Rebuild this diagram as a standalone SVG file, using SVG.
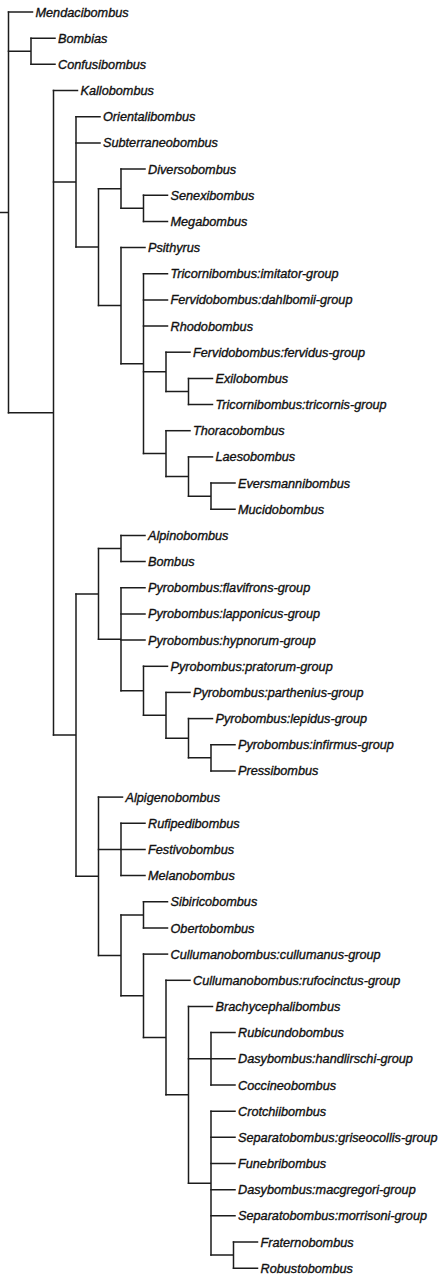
<svg xmlns="http://www.w3.org/2000/svg" width="441" height="1276" viewBox="0 0 441 1276">
<style>
.c{fill:none;stroke:#1c1c1c;stroke-width:1.5;stroke-linecap:square}
text{font-family:"Liberation Sans",Arial,sans-serif;font-style:italic;font-size:12.7px;fill:#111;stroke:#111;stroke-width:0.35}
</style>
<rect width="441" height="1276" fill="#fff"/>
<g id="connectors" class="c">
<path d="M0,212.4H8.5M8.5,12V412.8"/>
<path d="M8.5,51.25H31M31,38.2V64.3"/>
<path d="M8.5,412.8H53.5M53.5,90.5V735"/>
<path d="M53.5,181.9H76M76,116.7V247.1"/>
<path d="M76,247.1H98.5M98.5,188.65V305.6"/>
<path d="M98.5,188.65H121M121,169V208.3"/>
<path d="M121,208.3H143.5M143.5,195.2V221.4"/>
<path d="M98.5,305.6H121M121,247.5V363.65"/>
<path d="M121,363.65H143.5M143.5,273.7V453.6"/>
<path d="M143.5,371.85H166M166,352.2V391.5"/>
<path d="M166,391.5H188.5M188.5,378.4V404.6"/>
<path d="M143.5,453.6H166M166,430.7V476.5"/>
<path d="M166,476.5H188.5M188.5,456.9V496.15"/>
<path d="M188.5,496.15H211M211,483.1V509.2"/>
<path d="M53.5,735H76M76,593.9V876.2"/>
<path d="M76,593.9H98.5M98.5,548.5V639.3"/>
<path d="M98.5,548.5H121M121,535.4V561.6"/>
<path d="M98.5,639.3H121M121,587.7V690.8"/>
<path d="M121,690.8H143.5M143.5,666.3V715.3"/>
<path d="M143.5,715.3H166M166,692.4V738.2"/>
<path d="M166,738.2H188.5M188.5,718.6V757.85"/>
<path d="M188.5,757.85H211M211,744.8V770.9"/>
<path d="M76,876.2H98.5M98.5,797.1V955.4"/>
<path d="M98.5,849.4H121M121,823.3V875.6"/>
<path d="M98.5,955.4H121M121,914.9V995.8"/>
<path d="M121,914.9H143.5M143.5,901.8V928"/>
<path d="M121,995.8H143.5M143.5,954.1V1037.6"/>
<path d="M143.5,1037.6H166M166,980.3V1094.8"/>
<path d="M166,1094.8H188.5M188.5,1006.5V1183.2"/>
<path d="M188.5,1058.8H211M211,1032.6V1085"/>
<path d="M188.5,1183.2H211M211,1111.2V1255.1"/>
<path d="M211,1255.1H233.5M233.5,1242V1268.2"/>
<path d="M8.5,12H32.5"/>
<path d="M31,38.2H55M31,64.3H55"/>
<path d="M53.5,90.5H77.5"/>
<path d="M76,116.7H100M76,142.9H100"/>
<path d="M121,169H145"/>
<path d="M143.5,195.2H167.5M143.5,221.4H167.5"/>
<path d="M121,247.5H145"/>
<path d="M143.5,273.7H167.5M143.5,299.9H167.5M143.5,326H167.5"/>
<path d="M166,352.2H190"/>
<path d="M188.5,378.4H212.5M188.5,404.6H212.5"/>
<path d="M166,430.7H190"/>
<path d="M188.5,456.9H212.5"/>
<path d="M211,483.1H235M211,509.2H235"/>
<path d="M121,535.4H145M121,561.6H145"/>
<path d="M121,587.7H145M121,613.9H145M121,640.1H145"/>
<path d="M143.5,666.3H167.5"/>
<path d="M166,692.4H190"/>
<path d="M188.5,718.6H212.5"/>
<path d="M211,744.8H235M211,770.9H235"/>
<path d="M98.5,797.1H122.5"/>
<path d="M121,823.3H145M121,849.4H145M121,875.6H145"/>
<path d="M143.5,901.8H167.5M143.5,928H167.5"/>
<path d="M143.5,954.1H167.5"/>
<path d="M166,980.3H190"/>
<path d="M188.5,1006.5H212.5"/>
<path d="M211,1032.6H235M211,1058.8H235M211,1085H235"/>
<path d="M211,1111.2H235M211,1137.3H235M211,1163.5H235M211,1189.7H235M211,1215.8H235"/>
<path d="M233.5,1242H257.5M233.5,1268.2H257.5"/>
</g>
<g id="n-mendacibombus"><text x="35.5" y="16.5">Mendacibombus</text></g>
<g id="n-bombias"><text x="58" y="42.7">Bombias</text></g>
<g id="n-confusibombus"><text x="58" y="68.8">Confusibombus</text></g>
<g id="n-kallobombus"><text x="80.5" y="95">Kallobombus</text></g>
<g id="n-orientalibombus"><text x="103" y="121.2">Orientalibombus</text></g>
<g id="n-subterraneobombus"><text x="103" y="147.4">Subterraneobombus</text></g>
<g id="n-diversobombus"><text x="148" y="173.5">Diversobombus</text></g>
<g id="n-senexibombus"><text x="170.5" y="199.7">Senexibombus</text></g>
<g id="n-megabombus"><text x="170.5" y="225.9">Megabombus</text></g>
<g id="n-psithyrus"><text x="148" y="252">Psithyrus</text></g>
<g id="n-tricornibombus-imitator"><text x="170.5" y="278.2">Tricornibombus:imitator-group</text></g>
<g id="n-fervidobombus-dahlbomii"><text x="170.5" y="304.4">Fervidobombus:dahlbomii-group</text></g>
<g id="n-rhodobombus"><text x="170.5" y="330.5">Rhodobombus</text></g>
<g id="n-fervidobombus-fervidus"><text x="193" y="356.7">Fervidobombus:fervidus-group</text></g>
<g id="n-exilobombus"><text x="215.5" y="382.9">Exilobombus</text></g>
<g id="n-tricornibombus-tricornis"><text x="215.5" y="409.1">Tricornibombus:tricornis-group</text></g>
<g id="n-thoracobombus"><text x="193" y="435.2">Thoracobombus</text></g>
<g id="n-laesobombus"><text x="215.5" y="461.4">Laesobombus</text></g>
<g id="n-eversmannibombus"><text x="238" y="487.6">Eversmannibombus</text></g>
<g id="n-mucidobombus"><text x="238" y="513.7">Mucidobombus</text></g>
<g id="n-alpinobombus"><text x="148" y="539.9">Alpinobombus</text></g>
<g id="n-bombus"><text x="148" y="566.1">Bombus</text></g>
<g id="n-pyro-flavifrons"><text x="148" y="592.2">Pyrobombus:flavifrons-group</text></g>
<g id="n-pyro-lapponicus"><text x="148" y="618.4">Pyrobombus:lapponicus-group</text></g>
<g id="n-pyro-hypnorum"><text x="148" y="644.6">Pyrobombus:hypnorum-group</text></g>
<g id="n-pyro-pratorum"><text x="170.5" y="670.8">Pyrobombus:pratorum-group</text></g>
<g id="n-pyro-parthenius"><text x="193" y="696.9">Pyrobombus:parthenius-group</text></g>
<g id="n-pyro-lepidus"><text x="215.5" y="723.1">Pyrobombus:lepidus-group</text></g>
<g id="n-pyro-infirmus"><text x="238" y="749.3">Pyrobombus:infirmus-group</text></g>
<g id="n-pressibombus"><text x="238" y="775.4">Pressibombus</text></g>
<g id="n-alpigenobombus"><text x="125.5" y="801.6">Alpigenobombus</text></g>
<g id="n-rufipedibombus"><text x="148" y="827.8">Rufipedibombus</text></g>
<g id="n-festivobombus"><text x="148" y="853.9">Festivobombus</text></g>
<g id="n-melanobombus"><text x="148" y="880.1">Melanobombus</text></g>
<g id="n-sibiricobombus"><text x="170.5" y="906.3">Sibiricobombus</text></g>
<g id="n-obertobombus"><text x="170.5" y="932.5">Obertobombus</text></g>
<g id="n-cullumanus"><text x="170.5" y="958.6">Cullumanobombus:cullumanus-group</text></g>
<g id="n-rufocinctus"><text x="193" y="984.8">Cullumanobombus:rufocinctus-group</text></g>
<g id="n-brachycephalibombus"><text x="215.5" y="1011">Brachycephalibombus</text></g>
<g id="n-rubicundobombus"><text x="238" y="1037.1">Rubicundobombus</text></g>
<g id="n-dasy-handlirschi"><text x="238" y="1063.3">Dasybombus:handlirschi-group</text></g>
<g id="n-coccineobombus"><text x="238" y="1089.5">Coccineobombus</text></g>
<g id="n-crotchiibombus"><text x="238" y="1115.7">Crotchiibombus</text></g>
<g id="n-sep-griseocollis"><text x="238" y="1141.8">Separatobombus:griseocollis-group</text></g>
<g id="n-funebribombus"><text x="238" y="1168">Funebribombus</text></g>
<g id="n-dasy-macgregori"><text x="238" y="1194.2">Dasybombus:macgregori-group</text></g>
<g id="n-sep-morrisoni"><text x="238" y="1220.3">Separatobombus:morrisoni-group</text></g>
<g id="n-fraternobombus"><text x="260.5" y="1246.5">Fraternobombus</text></g>
<g id="n-robustobombus"><text x="260.5" y="1272.7">Robustobombus</text></g>
</svg>
